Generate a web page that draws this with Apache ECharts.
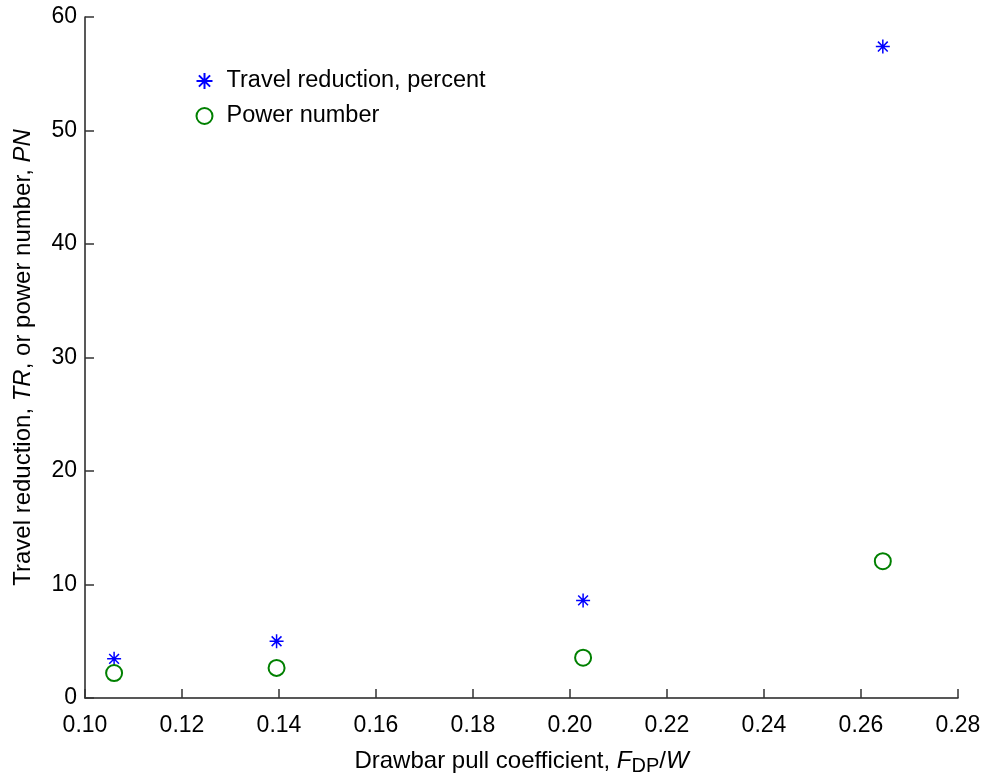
<!DOCTYPE html>
<html><head><meta charset="utf-8">
<script src="https://cdn.jsdelivr.net/npm/echarts@6/dist/echarts.min.js"></script>
<style>html,body{margin:0;padding:0;background:#fff}#c{width:987px;height:778px}</style>
</head><body><div id="c"></div>
<script>
const drawbarPull = [0.106, 0.1395, 0.2027, 0.2645];
const travelReduction = [3.45, 5.0, 8.6, 57.4];
const powerNumber = [2.2, 2.65, 3.55, 12.05];
const xTicks = {min: 0.10, max: 0.28, interval: 0.02};
const yTicks = {min: 0, max: 60, interval: 10};

const starPath = 'path://M10,0L10,20M0,10L20,10M3,3L17,17M3,17L17,3';
const font = 'Liberation Sans, Arial, sans-serif';
const chart = echarts.init(document.getElementById('c'));
chart.setOption({
  animation: false,
  backgroundColor: '#fff',
  grid: {left: 85, right: 29, top: 17, bottom: 80, containLabel: false, outerBoundsMode: 'none'},
  legend: {
    orient: 'vertical', left: 189, top: 64, itemGap: 11, itemWidth: 18, itemHeight: 16,
    textStyle: {fontFamily: font, fontSize: 23.5, color: '#000', padding: [0,0,0,8]},
    data: ['Travel reduction, percent', 'Power number']
  },
  xAxis: {
    type: 'value', min: xTicks.min, max: xTicks.max, interval: xTicks.interval,
    axisLine: {lineStyle: {color: '#222', width: 1.5}},
    axisTick: {inside: true, length: 9, lineStyle: {color: '#333', width: 1.5}},
    splitLine: {show: false},
    axisLabel: {fontFamily: font, fontSize: 23, color: '#000', margin: 16, formatter: v => v.toFixed(2)},
    name: '{a|Drawbar pull coefficient, }{i|F}{s|DP}{a|/}{i|W}',
    nameLocation: 'middle', nameGap: 49,
    nameTextStyle: {rich: {
      a: {fontFamily: font, fontSize: 24, color: '#000'},
      i: {fontFamily: font, fontSize: 24, color: '#000', fontStyle: 'italic'},
      s: {fontFamily: font, fontSize: 20, color: '#000', padding: [9,0,0,0]}
    }}
  },
  yAxis: {
    type: 'value', min: yTicks.min, max: yTicks.max, interval: yTicks.interval,
    axisLine: {show: true, lineStyle: {color: '#222', width: 1.5}},
    axisTick: {show: true, inside: true, length: 9, lineStyle: {color: '#333', width: 1.5}},
    splitLine: {show: false},
    axisLabel: {fontFamily: font, fontSize: 23, color: '#000', margin: 8},
    name: '{a|Travel reduction, }{i|TR}{a|, or power number, }{i|PN}',
    nameLocation: 'middle', nameGap: 50, nameRotate: 90,
    nameTextStyle: {rich: {
      a: {fontFamily: font, fontSize: 24, color: '#000'},
      i: {fontFamily: font, fontSize: 24, color: '#000', fontStyle: 'italic'}
    }}
  },
  series: [
    {
      name: 'Travel reduction, percent', type: 'scatter', symbol: starPath, symbolSize: 14,
      itemStyle: {color: 'none', borderColor: '#0000ff', borderWidth: 1.5, opacity: 1},
      data: drawbarPull.map((x, i) => [x, travelReduction[i]])
    },
    {
      name: 'Power number', type: 'scatter', symbol: 'circle', symbolSize: 16,
      itemStyle: {color: 'none', borderColor: '#008000', borderWidth: 2, opacity: 1},
      data: drawbarPull.map((x, i) => [x, powerNumber[i]])
    }
  ]
});
</script></body></html>
